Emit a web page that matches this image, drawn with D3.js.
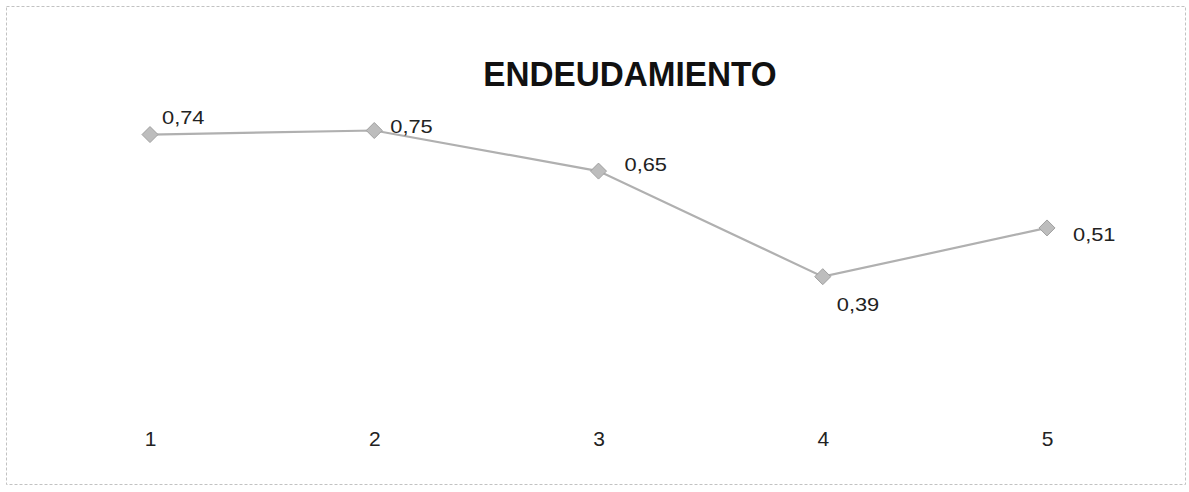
<!DOCTYPE html>
<html>
<head>
<meta charset="utf-8">
<script src="https://cdn.jsdelivr.net/npm/d3@7/dist/d3.min.js"></script>
<style>
  html, body { margin: 0; padding: 0; background: #fff; }
  svg { display: block; font-family: "Liberation Sans", Arial, sans-serif; }
</style>
</head>
<body>
<svg id="chart" width="1189" height="492"></svg>
<script>
const title = "ENDEUDAMIENTO";
const categories = ["1", "2", "3", "4", "5"];
const values = [0.74, 0.75, 0.65, 0.39, 0.51];
const valueLabels = ["0,74", "0,75", "0,65", "0,39", "0,51"];

// label placement (layout only)
const labelOffsets = [[12, -11], [16, 2], [26, 0], [14, 34], [26, 13]];

const svg = d3.select("#chart");

// frame
svg.append("rect")
  .attr("x", 6.5).attr("y", 6.5).attr("width", 1179).attr("height", 478)
  .attr("fill", "none").attr("stroke", "#c2c2c2").attr("stroke-width", 1)
  .attr("stroke-dasharray", "3,2");

// title
const tcx = 630, tby = 86;
svg.append("text")
  .attr("x", 0).attr("y", 0)
  .attr("text-anchor", "middle")
  .attr("font-size", 32).attr("font-weight", "bold")
  .attr("fill", "#111")
  .attr("transform", `translate(${tcx},${tby}) scale(1.04,1.1)`)
  .text(title);

const x = d3.scalePoint().domain(categories).range([150, 1047]);
const y = d3.scaleLinear().domain([0, 1]).range([435, 29]);

// category axis labels (no axis line)
const xAxis = d3.axisBottom(x).tickSize(0).tickPadding(0);
const gx = svg.append("g").attr("transform", "translate(0,0)").call(xAxis);
gx.select(".domain").remove();
gx.attr("font-size", null).attr("font-family", null);
gx.selectAll(".tick text")
  .attr("dy", null)
  .attr("y", 0)
  .attr("font-size", 20).attr("fill", "#222")
  .attr("transform", d => `translate(0,446) scale(1.05,1)`);

const data = categories.map((c, i) => ({ c, v: values[i], l: valueLabels[i], o: labelOffsets[i] }));

// line
svg.append("path")
  .datum(data)
  .attr("fill", "none")
  .attr("stroke", "#b0b0b0")
  .attr("stroke-width", 2.2)
  .attr("d", d3.line().x(d => x(d.c)).y(d => y(d.v)));

// markers: square diamonds
const r = 8;
svg.selectAll(".mk").data(data).enter().append("path")
  .attr("class", "mk")
  .attr("d", `M0,${-r}L${r},0L0,${r}L${-r},0Z`)
  .attr("transform", d => `translate(${x(d.c)},${y(d.v)})`)
  .attr("fill", "#bdbdbd").attr("stroke", "#a0a0a0").attr("stroke-width", 1);

// data labels
svg.selectAll(".lb").data(data).enter().append("text")
  .attr("class", "lb")
  .attr("x", 0).attr("y", 0)
  .attr("font-size", 19).attr("fill", "#222")
  .attr("transform", d => `translate(${x(d.c) + d.o[0]},${y(d.v) + d.o[1]}) scale(1.15,1)`)
  .text(d => d.l);
</script>
</body>
</html>
